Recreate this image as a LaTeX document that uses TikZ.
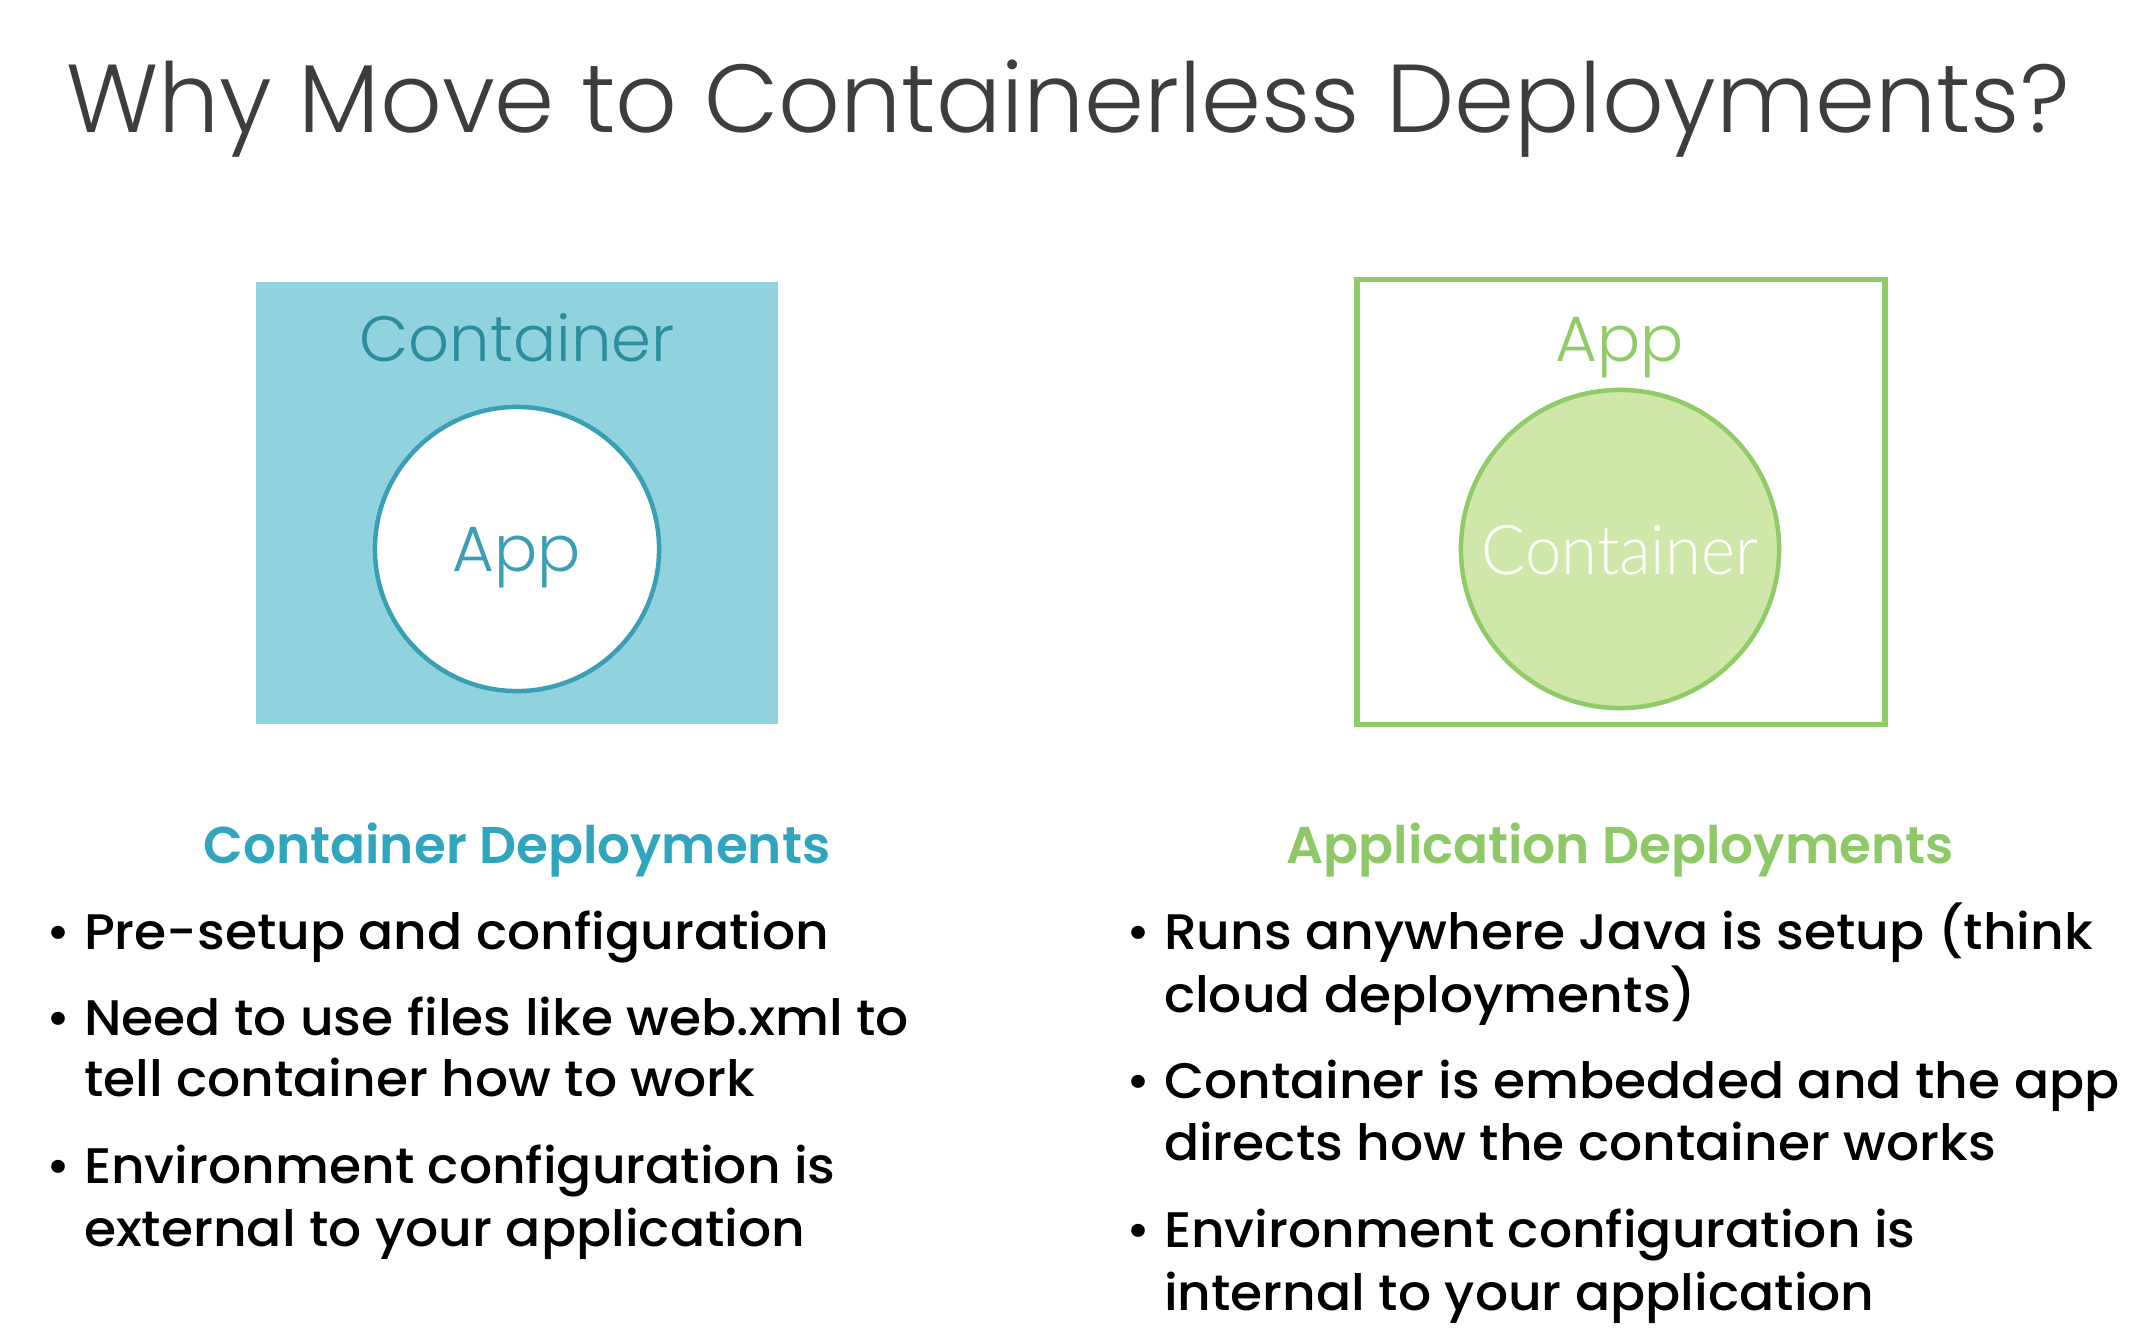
\documentclass[tikz,border=0pt]{standalone}
\usepackage{fontspec}
\IfFontExistsTF{Poppins Light}{\newfontfamily\lightfont{Poppins Light}}{\newfontfamily\lightfont{Poppins}}
\IfFontExistsTF{Poppins Medium}{\newfontfamily\midfont{Poppins Medium}[FakeStretch=1.04]}{\newfontfamily\midfont{Poppins}[FakeStretch=1.04]}
\IfFontExistsTF{Poppins SemiBold}{\newfontfamily\headfont{Poppins SemiBold}}{\newfontfamily\headfont{Poppins}[FakeBold=1.5]}
\IfFontExistsTF{Lato Light}{\newfontfamily\helvlight{Lato Light}[FakeStretch=0.95]}{\newfontfamily\helvlight{Liberation Sans}[FakeStretch=0.95]}

\definecolor{titlegray}{HTML}{3D3D3D}
\definecolor{tealfill}{HTML}{90D2DE}
\definecolor{tealdark}{HTML}{2A8E9E}
\definecolor{tealline}{HTML}{3A9FB4}
\definecolor{tealhead}{HTML}{2FA6BD}
\definecolor{greenline}{HTML}{8FCB66}
\definecolor{greenfill}{HTML}{CFE8AA}
\definecolor{greenhead}{HTML}{8DC966}

\begin{document}
\begin{tikzpicture}[x=0.01cm, y=-0.01cm,
  every node/.style={inner sep=0pt, outer sep=0pt},
  title/.style={font=\lightfont\fontsize{27.45pt}{33pt}\selectfont, text=titlegray, anchor=base},
  boxlabel/.style={font=\lightfont\fontsize{18.2pt}{22pt}\selectfont, anchor=base},
  heading/.style={font=\headfont\fontsize{14.7pt}{18pt}\selectfont, anchor=base},
  bodyline/.style={font=\midfont\fontsize{14.2pt}{17.6pt}\selectfont, text=black, anchor=base west},
  dot/.style={font=\midfont\fontsize{14.2pt}{17.6pt}\selectfont, text=black, anchor=base}
]
% canvas
\fill[white] (0,0) rectangle (2134,1336);
\useasboundingbox (0,0) rectangle (2134,1336);

% title
\node[title] (title) at (1068,132) {Why Move to Containerless Deployments?};

% left diagram: container holding the app
\node[draw=none, fill=tealfill, minimum width=5.22cm, minimum height=4.42cm] (cbox) at (517,503) {};
\node[boxlabel, text=tealdark] (clabel) at (517,361) {Container};
\node[circle, draw=tealline, line width=0.045cm, fill=white, minimum size=2.84cm] (appcircle) at (517,549) {};
\node[boxlabel, text=tealline] (applabel) at (517,571) {App};

% right diagram: app holding the container
\node[draw=greenline, line width=0.055cm, fill=white, minimum width=5.28cm, minimum height=4.45cm] (abox) at (1621,502) {};
\node[boxlabel, text=greenline] (alabel) at (1620,361) {App};
\node[circle, draw=greenline, line width=0.045cm, fill=greenfill, minimum size=3.18cm] (contcircle) at (1620,549) {};
\node[font=\helvlight\fontsize{19.5pt}{24pt}\selectfont, text=white, anchor=base] (contlabel) at (1620,574) {Container};

% headings
\node[heading, text=tealhead] (lhead) at (517,863) {Container Deployments};
\node[heading, text=greenhead] (rhead) at (1620,863) {Application Deployments};

% left bullets
\node[dot] (lb1) at (58,949) {•};
\node[bodyline] (l1) at (84,949) {Pre-setup and configuration};
\node[dot] (lb2) at (58,1035) {•};
\node[bodyline] (l2a) at (84,1035) {Need to use files like web.xml to};
\node[bodyline] (l2b) at (84,1096) {tell container how to work};
\node[dot] (lb3) at (58,1183) {•};
\node[bodyline] (l3a) at (84,1183) {Environment configuration is};
\node[bodyline] (l3b) at (84,1246) {external to your application};

% right bullets
\node[dot] (rb1) at (1138,949) {•};
\node[bodyline] (r1a) at (1164,949) {Runs anywhere Java is setup (think};
\node[bodyline] (r1b) at (1164,1012) {cloud deployments)};
\node[dot] (rb2) at (1138,1098) {•};
\node[bodyline] (r2a) at (1164,1098) {Container is embedded and the app};
\node[bodyline] (r2b) at (1164,1160) {directs how the container works};
\node[dot] (rb3) at (1138,1247) {•};
\node[bodyline] (r3a) at (1164,1247) {Environment configuration is};
\node[bodyline] (r3b) at (1164,1310) {internal to your application};
\end{tikzpicture}
\end{document}
